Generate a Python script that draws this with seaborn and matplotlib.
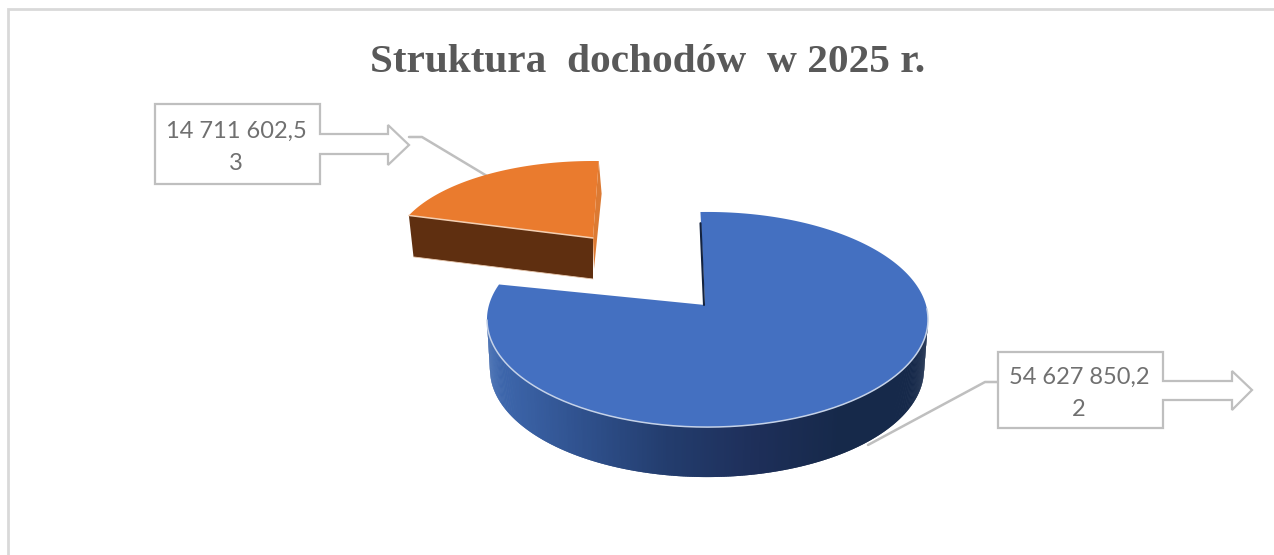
import numpy as np
import matplotlib
matplotlib.use("Agg")
import matplotlib.pyplot as plt
import seaborn as sns

# Income structure for 2025
TITLE = "Struktura  dochodów  w 2025 r."
values = [54627850.22, 14711602.53]
top_colors = ["#4470c1", "#ea7b2e"]

PIE_START = -2.1     # clockwise from twelve o'clock, degrees
TILT = 0.135         # how strongly the far edge shrinks
ORANGE_TURN = 4.0    # extra turn of the pulled-out slice


def project(theta, cx, cy, sx, sy):
    """Perspective view of a point on a tilted unit circle."""
    t = np.radians(theta)
    w = 1 + TILT * np.cos(t)
    return cx + sx * np.sin(t) / w, cy - sy * np.cos(t) / w


def money(v):
    text = f"{v:,.2f}".replace(",", " ").replace(".", ",")
    return text[:12] + "\n" + text[12:]


sns.set_theme(style="white")
fig, ax = plt.subplots(figsize=(12.74, 5.55), dpi=100)
fig.subplots_adjust(0, 0, 1, 1)
ax.set_xlim(0, 1274)
ax.set_ylim(555, 0)
ax.axis("off")

# Chart frame, open on the right and at the bottom
ax.plot([8, 8, 1274], [555, 9, 9], color="#d9d9d9", lw=2, solid_joinstyle="miter")

sweep = np.array(values) / sum(values) * 360
blue_a = PIE_START
blue_b = PIE_START + sweep[0]
orange_a = blue_b + ORANGE_TURN
orange_b = orange_a + sweep[1]

# --- Large slice ---
bc = (707.5, 305, 218.5, 105.6)
bb = (707, 355, 215, 105.6)
apex = (705, 305)

ramp = sns.blend_palette(["#3f69b0", "#30528f", "#233d6e", "#1e2f5a", "#16294a", "#16294a"], 200)
steps = np.linspace(97.8, 262.2, 400)
for a0, a1 in zip(steps[:-1], steps[1:]):
    xa, ya = project(np.array([a0, a1 + 0.4]), *bc)
    xb, yb = project(np.array([a1 + 0.4, a0]), *bb)
    shade = ramp[int(np.clip((xa.mean() - 487) / 441 * 199, 0, 199))]
    ax.fill(np.r_[xa, xb], np.r_[ya, yb], color=shade, lw=0, zorder=2)

arc = np.linspace(blue_a, blue_b, 500)
x, y = project(arc, *bc)
ax.fill(np.r_[apex[0], x], np.r_[apex[1], y], color=top_colors[0], lw=0, zorder=3)

# Light seam along the front rim
front = np.linspace(92, 262, 200)
ax.plot(*project(front, *bc), color="#c5d2e8", lw=1.1, zorder=4)

# Dark seam on the inner cut
x0, y0 = project(blue_a, *bc)
ax.plot([x0 - 0.5 + 0.12 * (apex[0] - x0), apex[0] - 1], [y0 + 0.12 * (apex[1] - y0), apex[1]],
        color="#14233f", lw=1.5, zorder=4)

# --- Pulled-out slice ---
oc = (593, 238, 198, 87.4)
ob = (593, 279, 193, 85.5)
odark = "#5f2f10"

# Front cut face, then the sliver on the right
lx, ly = project(orange_a, *oc)
lbx, lby = project(orange_a, *ob)
ax.fill([lx, oc[0], ob[0], lbx], [ly, oc[1], ob[1], lby], color=odark, lw=0, zorder=2)
rx, ry = project(orange_b, *oc)
rbx, rby = project(orange_b, *ob)
ax.fill([rx, rbx + 3, ob[0] + 1, oc[0]], [ry, rby - 10, ob[1] - 10, oc[1]], color="#dc7a33", lw=0, zorder=2)

arc = np.linspace(orange_a, orange_b, 200)
x, y = project(arc, *oc)
ax.fill(np.r_[oc[0], x], np.r_[oc[1], y], color=top_colors[1], lw=0, zorder=3)
ax.plot([lx, oc[0]], [ly, oc[1]], color="#f4cfb2", lw=1.1, zorder=4)
ax.plot([lbx, ob[0]], [lby, ob[1]], color="#e8c8ae", lw=0.6, zorder=4)

# --- Callouts ---
edge = "#bfbfbf"
callouts = [
    dict(box=(155, 320, 104, 184), shaft=(134, 154), head=(388, 125, 165, 409, 145),
         leader=([409, 422, 487], [137, 137, 176]), value=values[1], text_xy=(236, 147)),
    dict(box=(998, 1163, 352, 428), shaft=(381, 400), head=(1232, 371, 410, 1252, 390),
         leader=([998, 985, 868], [382, 382, 445]), value=values[0], text_xy=(1079, 393)),
]
for c in callouts:
    x0, x1, y0, y1 = c["box"]
    s0, s1 = c["shaft"]
    hx, h0, h1, tx, ty = c["head"]
    ax.fill([x0, x1, x1, hx, hx, tx, hx, hx, x1, x1, x0],
            [y0, y0, s0, s0, h0, ty, h1, s1, s1, y1, y1],
            facecolor="white", edgecolor=edge, lw=1.6, closed=True, zorder=5)
    ax.plot(*c["leader"], color=edge, lw=1.8, zorder=1)
    ax.text(*c["text_xy"], money(c["value"]), ha="center", va="center", family="Lato",
            fontsize=17, color="#707070", linespacing=1.65, zorder=6)

ax.text(648, 62, TITLE, ha="center", va="center", family="Liberation Serif",
        fontweight="bold", fontsize=29.7, color="#595959")

fig.savefig("out.png", dpi=100)
